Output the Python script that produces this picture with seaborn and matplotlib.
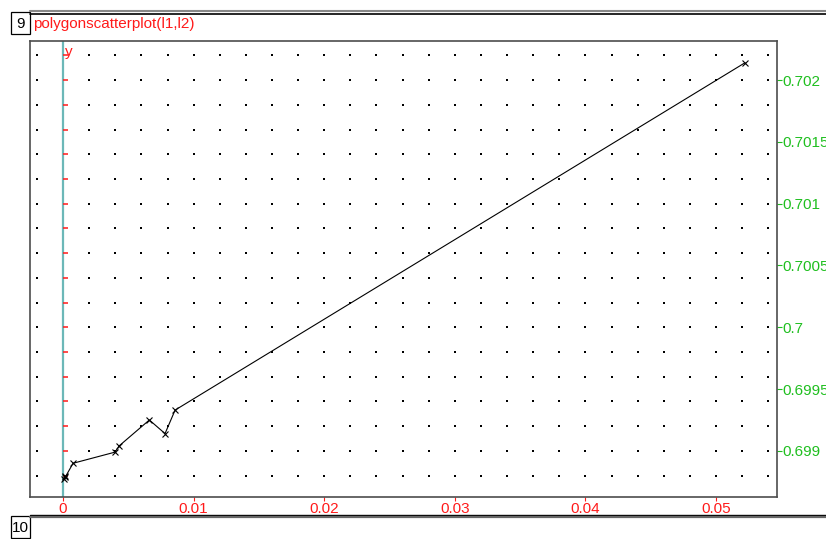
import numpy as np
import pandas as pd
import matplotlib
matplotlib.use("Agg")
import matplotlib.pyplot as plt
from matplotlib.lines import Line2D
from matplotlib.patches import Rectangle
import seaborn as sns

# polygon points (l1, l2)
l1 = [0.00012, 0.00008, 0.00018, 0.00077, 0.00398, 0.00429, 0.00661, 0.00781, 0.00858, 0.05222]
l2 = [0.69880, 0.69877, 0.69879, 0.69890, 0.69899, 0.69904, 0.69925, 0.69914, 0.69933, 0.70214]

xticks = [0, 0.01, 0.02, 0.03, 0.04, 0.05]
xlabels = ["0", "0.01", "0.02", "0.03", "0.04", "0.05"]
yticks = [0.699, 0.6995, 0.7, 0.7005, 0.701, 0.7015, 0.702]
ylabels = ["0.699", "0.6995", "0.7", "0.7005", "0.701", "0.7015", "0.702"]

# background dot grid
grid_x = np.round(np.arange(-0.002, 0.0541, 0.002), 4)
grid_y = np.round(np.arange(0.6988, 0.70221, 0.0002), 4)

RED = "#ff1a1a"
GREEN = "#1fbf1f"
TEAL = "#6cb8b8"

W, H = 826, 539
sns.set_theme(style="white")
plt.rcParams["font.family"] = ["Liberation Sans", "DejaVu Sans"]

fig = plt.figure(figsize=(W / 100, H / 100), dpi=100)
ax = fig.add_axes([30 / W, 1 - 497 / H, 747 / W, 456 / H])

gx, gy = np.meshgrid(grid_x, grid_y)
dots = pd.DataFrame({"x": gx.ravel(), "y": gy.ravel()})
sns.scatterplot(data=dots, x="x", y="y", marker="s", s=2.6, color="black",
                linewidth=0, ax=ax, zorder=1)

ax.axvline(0, color=TEAL, lw=1.6, zorder=2)
ax.hlines(grid_y, 0, 0.00036, color=RED, lw=1.1, zorder=3)
ax.text(0.00012, 0.702225, "y", color=RED, fontsize=11, va="center", ha="left")

poly = pd.DataFrame({"l1": l1, "l2": l2})
sns.lineplot(data=poly, x="l1", y="l2", sort=False, color="black", lw=0.8,
             marker="x", markersize=4.5, markeredgewidth=0.8,
             markeredgecolor="black", ax=ax, zorder=4)

ax.set_xlim(-0.00253, 0.05467)
ax.set_ylim(0.698627, 0.702316)
ax.set_xlabel("")
ax.set_ylabel("")

ax.set_xticks(xticks)
ax.set_xticklabels(xlabels)
ax.yaxis.tick_right()
ax.set_yticks(yticks)
ax.set_yticklabels(ylabels)
ax.tick_params(axis="x", direction="out", length=3, width=0.8, colors=RED,
               labelsize=11, pad=0.5, bottom=True)
ax.tick_params(axis="y", direction="out", length=3.5, width=0.8, colors=GREEN,
               labelsize=11, pad=0.5, right=True, left=False)

for s in ax.spines.values():
    s.set_color("#4d4d4d")
    s.set_linewidth(1.2)


def fx(x):
    return x / W


def fy(y):
    return 1 - y / H


# notebook cell frame
fig.add_artist(Line2D([fx(30), fx(826)], [fy(10.5), fy(10.5)], color="#888888", lw=1.5))
fig.add_artist(Line2D([fx(30), fx(826)], [fy(13.5), fy(13.5)], color="black", lw=1.2))
fig.add_artist(Line2D([fx(30), fx(826)], [fy(514.5), fy(514.5)], color="black", lw=1.0))
fig.add_artist(Line2D([fx(30), fx(826)], [fy(516.5), fy(516.5)], color="#666666", lw=1.6))
fig.add_artist(Rectangle((fx(10.5), fy(33.5)), 19.5 / W, 21 / H, fill=False,
                         edgecolor="black", lw=0.9, transform=fig.transFigure))
fig.add_artist(Rectangle((fx(10.5), fy(538)), 19.5 / W, 22 / H, fill=False,
                         edgecolor="black", lw=0.9, transform=fig.transFigure))
fig.text(fx(20.5), fy(24), "9", color="black", fontsize=11, ha="center", va="center")
fig.text(fx(20.5), fy(528), "10", color="black", fontsize=11, ha="center", va="center")
fig.text(fx(33), fy(24), "polygonscatterplot(l1,l2)", color=RED, fontsize=11,
         ha="left", va="center")

fig.savefig("out.png", dpi=100)
